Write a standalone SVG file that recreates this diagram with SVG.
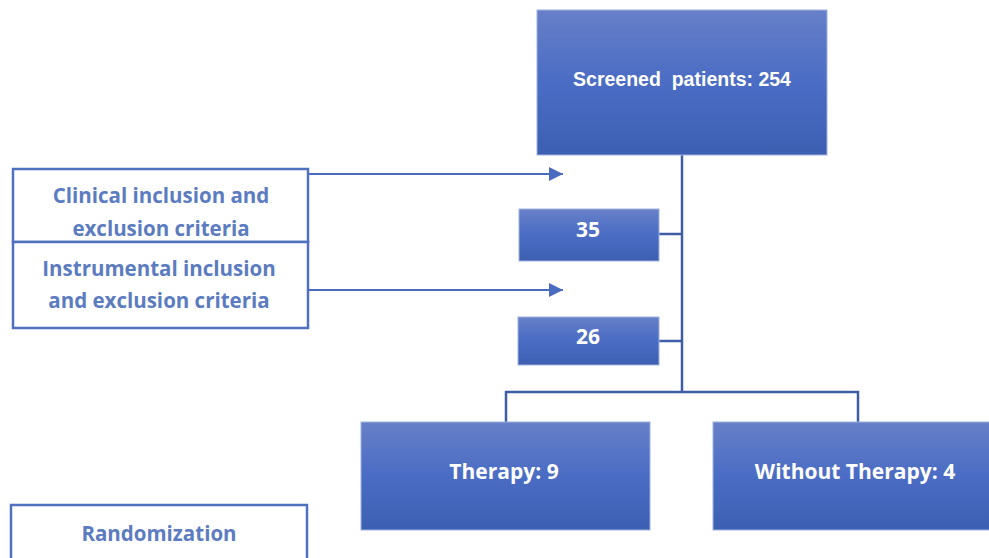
<svg xmlns="http://www.w3.org/2000/svg" width="989" height="558" viewBox="0 0 989 558">
<defs>
<linearGradient id="g" x1="0" y1="0" x2="0" y2="1">
<stop offset="0" stop-color="#6780c8"/>
<stop offset="0.5" stop-color="#4a6cc4"/>
<stop offset="1" stop-color="#3d5fb2"/>
</linearGradient>
<marker id="arr2" viewBox="0 0 14 14" markerWidth="14" markerHeight="14" refX="14" refY="7" orient="auto" markerUnits="userSpaceOnUse">
<path d="M0,0 L14,7 L0,14 Z" fill="#4a6cc0"/>
</marker>
</defs>
<style>
.fill{fill:url(#g);stroke:#9fb2e0;stroke-width:1}
.out{fill:#fff;stroke:#4f71bf;stroke-width:2.5}
.wt{fill:#fff;font-family:"Open Sans","Liberation Sans",sans-serif;font-weight:bold;text-anchor:middle;font-size:21px}
.ar1{fill:#fff;font-family:"Liberation Sans",Arial,sans-serif;font-weight:bold;text-anchor:middle;font-size:19.5px;white-space:pre}
.bt{fill:#5b7cc0;font-family:"Open Sans","Liberation Sans",sans-serif;font-weight:bold;text-anchor:middle;font-size:20.5px}
.ln{fill:none;stroke:#3f5da6;stroke-width:2.5}
.ar{fill:none;stroke:#4a6cc0;stroke-width:2}
</style>
<g id="connectors">
<path class="ln" d="M682,155 V392"/>
<path class="ln" d="M659,234 H682"/>
<path class="ln" d="M659,341 H682"/>
<path class="ln" d="M506,422 V392 H858 V422"/>
<path class="ar" d="M308,174 H563" marker-end="url(#arr2)"/>
<path class="ar" d="M308,290 H563" marker-end="url(#arr2)"/>
</g>
<g id="screened">
<rect class="fill" x="537" y="10" width="290" height="145"/>
<text class="ar1" x="682" y="86" xml:space="preserve">Screened  patients: 254</text>
</g>
<g id="clinical">
<rect class="out" x="13" y="169" width="295" height="73"/>
<text class="bt" x="161" y="203">Clinical inclusion and</text>
<text class="bt" x="161" y="236">exclusion criteria</text>
</g>
<g id="instrumental">
<rect class="out" x="13" y="242" width="295" height="86"/>
<text class="bt" x="159" y="276">Instrumental inclusion</text>
<text class="bt" x="159" y="308">and exclusion criteria</text>
</g>
<g id="n35">
<rect class="fill" x="519" y="209" width="140" height="52"/>
<text class="wt" x="588" y="237">35</text>
</g>
<g id="n26">
<rect class="fill" x="518" y="317" width="141" height="48"/>
<text class="wt" x="588" y="344">26</text>
</g>
<g id="therapy">
<rect class="fill" x="361" y="422" width="289" height="108"/>
<text class="wt" x="504" y="479">Therapy: 9</text>
</g>
<g id="without">
<rect class="fill" x="713" y="422" width="290" height="108"/>
<text class="wt" x="855" y="479">Without Therapy: 4</text>
</g>
<g id="randomization">
<rect class="out" x="11" y="505" width="296" height="70"/>
<text class="bt" x="159" y="541">Randomization</text>
</g>
</svg>
